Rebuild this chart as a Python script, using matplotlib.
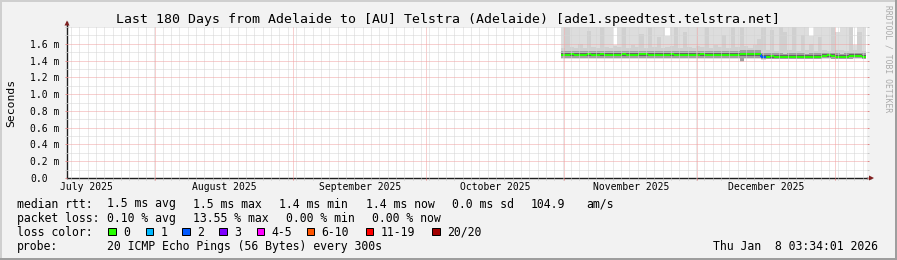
import numpy as np
import pandas as pd
import matplotlib as mpl
mpl.use('Agg')
import matplotlib.pyplot as plt
import matplotlib.dates as mdates
from matplotlib.patches import Rectangle, Polygon
from matplotlib.ticker import FixedLocator

W, H = 897, 260
MONO = 'DejaVu Sans Mono'

title = 'Last 180 Days from Adelaide to [AU] Telstra (Adelaide) [ade1.speedtest.telstra.net]'
t_start = pd.Timestamp('2025-07-12 03:34:01')
t_end = pd.Timestamp('2026-01-08 03:34:01')
data_start = pd.Timestamp('2025-10-31 06:00')
data_end = pd.Timestamp('2026-01-07 22:00')

# smokeping buckets (ms), one per ~day from 2025-10-31 to 2026-01-07
median = [1.472, 1.471, 1.473, 1.472, 1.470, 1.472, 1.473, 1.471, 1.472, 1.474,
          1.472, 1.471, 1.470, 1.472, 1.473, 1.472, 1.471, 1.472, 1.474, 1.473,
          1.472, 1.471, 1.472, 1.470, 1.471, 1.473, 1.472, 1.471, 1.470, 1.472,
          1.471, 1.472, 1.473, 1.471, 1.470, 1.472, 1.471, 1.470, 1.472, 1.470,
          1.472, 1.476, 1.478, 1.477, 1.478, 1.476, 1.438, 1.446, 1.452, 1.446,
          1.445, 1.446, 1.447, 1.446, 1.445, 1.447, 1.446, 1.448, 1.446, 1.447,
          1.458, 1.462, 1.457, 1.447, 1.446, 1.447, 1.456, 1.460, 1.458, 1.447]
loss = [0, 0, 0, 0, 0, 0, 0, 0, 0, 0,
        0, 0, 0, 0, 0, 0, 0, 0, 0, 0,
        0, 0, 0, 0, 0, 0, 0, 0, 0, 0,
        0, 0, 0, 0, 0, 0, 0, 0, 0, 0,
        0, 0, 0, 0, 0, 0, 2, 0, 0, 0,
        0, 0, 0, 0, 0, 0, 0, 0, 0, 0,
        0, 0, 0, 0, 0, 0, 0, 0, 0, 0]
ping_max = [2.6, 2.6, 2.6, 2.6, 2.6, 2.6, 2.6, 2.6, 2.6, 2.6,
            2.6, 2.6, 1.59, 2.6, 2.6, 2.6, 2.6, 2.6, 2.6, 2.6,
            2.6, 2.6, 2.6, 2.6, 1.69, 2.6, 2.6, 2.6, 2.6, 2.6,
            2.6, 2.6, 2.6, 2.6, 2.6, 2.6, 2.6, 2.6, 2.6, 2.6,
            2.6, 2.6, 2.6, 2.6, 2.6, 2.6, 2.6, 2.6, 2.6, 2.6,
            2.6, 2.6, 2.6, 2.6, 2.6, 2.6, 2.6, 1.69, 2.6, 2.6,
            2.6, 2.6, 2.6, 1.74, 2.6, 2.6, 2.6, 1.59, 2.6, 2.6]
ping_up = [1.55, 1.80, 1.56, 1.55, 1.60, 1.55, 1.75, 1.56, 1.55, 1.80,
           1.56, 1.55, 1.57, 1.56, 1.80, 1.55, 1.58, 1.56, 1.72, 1.55,
           1.80, 1.56, 1.68, 1.55, 1.56, 1.57, 1.80, 1.55, 1.74, 1.56,
           1.55, 1.57, 1.56, 1.80, 1.55, 1.58, 1.56, 1.70, 1.55, 1.80,
           1.56, 1.80, 1.57, 1.55, 1.58, 1.66, 1.80, 1.52, 1.76, 1.51,
           1.80, 1.74, 1.52, 1.80, 1.51, 1.70, 1.52, 1.60, 1.51, 1.68,
           1.52, 1.51, 1.80, 1.52, 1.53, 1.51, 1.80, 1.52, 1.74, 1.51]
mid_hi = [1.515, 1.516, 1.515, 1.514, 1.515, 1.516, 1.515, 1.515, 1.514, 1.516,
          1.515, 1.515, 1.514, 1.515, 1.516, 1.515, 1.514, 1.515, 1.516, 1.515,
          1.515, 1.514, 1.515, 1.516, 1.515, 1.515, 1.514, 1.515, 1.516, 1.515,
          1.515, 1.514, 1.515, 1.516, 1.515, 1.515, 1.514, 1.515, 1.516, 1.515,
          1.515, 1.520, 1.521, 1.520, 1.521, 1.520, 1.485, 1.486, 1.488, 1.485,
          1.485, 1.484, 1.485, 1.486, 1.485, 1.485, 1.484, 1.486, 1.485, 1.485,
          1.490, 1.492, 1.489, 1.485, 1.484, 1.485, 1.489, 1.491, 1.489, 1.485]
core_hi = [1.495, 1.494, 1.495, 1.496, 1.495, 1.494, 1.495, 1.495, 1.496, 1.495,
           1.494, 1.495, 1.495, 1.496, 1.495, 1.494, 1.495, 1.495, 1.496, 1.495,
           1.494, 1.495, 1.495, 1.496, 1.495, 1.494, 1.495, 1.495, 1.496, 1.495,
           1.494, 1.495, 1.495, 1.496, 1.495, 1.494, 1.495, 1.495, 1.496, 1.495,
           1.494, 1.500, 1.501, 1.500, 1.501, 1.500, 1.462, 1.468, 1.472, 1.466,
           1.465, 1.466, 1.467, 1.466, 1.465, 1.467, 1.466, 1.468, 1.466, 1.467,
           1.476, 1.479, 1.475, 1.467, 1.466, 1.467, 1.475, 1.478, 1.476, 1.467]
core_lo = [1.452, 1.451, 1.452, 1.453, 1.452, 1.451, 1.452, 1.452, 1.453, 1.452,
           1.451, 1.452, 1.452, 1.453, 1.452, 1.451, 1.452, 1.452, 1.453, 1.452,
           1.451, 1.452, 1.452, 1.453, 1.452, 1.451, 1.452, 1.452, 1.453, 1.452,
           1.451, 1.452, 1.452, 1.453, 1.452, 1.451, 1.452, 1.452, 1.453, 1.452,
           1.451, 1.455, 1.456, 1.455, 1.456, 1.455, 1.425, 1.432, 1.436, 1.432,
           1.432, 1.433, 1.432, 1.432, 1.431, 1.432, 1.433, 1.432, 1.432, 1.433,
           1.440, 1.443, 1.439, 1.432, 1.432, 1.433, 1.439, 1.442, 1.440, 1.432]
mid_lo = [1.428, 1.427, 1.428, 1.429, 1.428, 1.427, 1.428, 1.428, 1.429, 1.428,
          1.427, 1.428, 1.428, 1.429, 1.428, 1.427, 1.428, 1.428, 1.429, 1.428,
          1.427, 1.428, 1.428, 1.429, 1.428, 1.427, 1.428, 1.428, 1.429, 1.428,
          1.427, 1.428, 1.428, 1.429, 1.428, 1.427, 1.428, 1.428, 1.429, 1.428,
          1.427, 1.400, 1.430, 1.431, 1.430, 1.430, 1.418, 1.422, 1.424, 1.422,
          1.422, 1.423, 1.422, 1.422, 1.421, 1.422, 1.423, 1.422, 1.422, 1.423,
          1.425, 1.427, 1.424, 1.422, 1.422, 1.423, 1.424, 1.426, 1.425, 1.422]
ping_min = [1.418, 1.417, 1.418, 1.419, 1.418, 1.417, 1.418, 1.418, 1.419, 1.418,
            1.417, 1.418, 1.418, 1.419, 1.418, 1.417, 1.418, 1.418, 1.419, 1.418,
            1.417, 1.418, 1.418, 1.419, 1.418, 1.417, 1.418, 1.418, 1.419, 1.418,
            1.417, 1.418, 1.418, 1.419, 1.418, 1.417, 1.418, 1.418, 1.419, 1.418,
            1.417, 1.385, 1.419, 1.420, 1.419, 1.418, 1.408, 1.414, 1.415, 1.414,
            1.414, 1.415, 1.414, 1.414, 1.413, 1.414, 1.415, 1.414, 1.414, 1.415,
            1.416, 1.417, 1.415, 1.414, 1.414, 1.415, 1.416, 1.417, 1.416, 1.414]

month_starts = ['2025-08-01', '2025-09-01', '2025-10-01', '2025-11-01', '2025-12-01', '2026-01-01']
month_labels = ['July 2025', 'August 2025', 'September 2025', 'October 2025',
                'November 2025', 'December 2025']
month_mids = ['2025-07-16 12:00', '2025-08-16 12:00', '2025-09-16 00:00',
              '2025-10-16 12:00', '2025-11-16 00:00', '2025-12-16 12:00']
y_major = [0.0, 0.2, 0.4, 0.6, 0.8, 1.0, 1.2, 1.4, 1.6]
y_major_labels = ['0.0', '0.2 m', '0.4 m', '0.6 m', '0.8 m', '1.0 m', '1.2 m', '1.4 m', '1.6 m']
y_minor = [0.1, 0.3, 0.5, 0.7, 0.9, 1.1, 1.3, 1.5, 1.7, 1.8]

loss_labels = ['0', '1', '2', '3', '4-5', '6-10', '11-19', '20/20']
loss_colors = ['#26ff00', '#00b8ff', '#0059ff', '#7e00ff', '#ff00ff', '#ff5500', '#ff0000', '#a10000']
loss_edges = [0, 1, 2, 3, 5, 10, 19, 20]

stats_rtt = ['median rtt:', '1.5 ms avg', '1.5 ms max', '1.4 ms min', '1.4 ms now',
             '0.0 ms sd', '104.9', 'am/s']
stats_loss = ['packet loss:', '0.10 % avg', '13.55 % max', '0.00 % min', '0.00 % now']
probe_text = '20 ICMP Echo Pings (56 Bytes) every 300s'
stamp = 'Thu Jan  8 03:34:01 2026'

# ---------------------------------------------------------------- figure
fig = plt.figure(figsize=(W / 100, H / 100), dpi=100, facecolor='#f2f2f2')
ax = fig.add_axes([67 / W, 82 / H, 800 / W, 151 / H], facecolor='white')

edges = mdates.date2num(pd.date_range(data_start, data_end, periods=len(median) + 1))

# smoke, outer to inner
ax.stairs(ping_max, edges, baseline=ping_min, fill=True, color='#dddddd', lw=0)
ax.stairs(ping_up, edges, baseline=mid_lo, fill=True, color='#d0d0d0', lw=0)
ax.stairs(mid_hi, edges, baseline=mid_lo, fill=True, color='#a0a0a0', lw=0)
ax.stairs(core_hi, edges, baseline=core_lo, fill=True, color='#656565', lw=0)

# median coloured by loss
med = np.array(median)
cols = [loss_colors[np.searchsorted(loss_edges, l)] for l in loss]
ax.vlines(edges[1:-1], med[:-1], med[1:], colors=cols[1:], lw=1.3)
ax.hlines(med, edges[:-1], edges[1:], colors=cols, lw=1.4)

ax.xaxis_date()
ax.set_xlim(mdates.date2num(t_start), mdates.date2num(t_end))
ax.set_ylim(0, 1.8)

# grid
ax.xaxis.set_major_locator(FixedLocator(mdates.date2num(pd.to_datetime(month_starts))))
ax.xaxis.set_minor_locator(FixedLocator(mdates.date2num(
    pd.date_range('2025-07-13 01:20', '2026-01-08', freq='45h'))))
ax.set_yticks(y_major)
ax.set_yticklabels(y_major_labels)
ax.yaxis.set_minor_locator(FixedLocator(y_minor))
ax.set_axisbelow(False)
ax.grid(which='minor', color='#d4d4d4', ls=(0, (1, 1)), lw=0.72)
ax.grid(which='major', color='#f0a0a0', ls=(0, (1, 1)), lw=0.72)
ax.tick_params(axis='both', which='minor', direction='out', length=1.6, width=0.72, color='#c8c8c8')
ax.tick_params(axis='both', which='major', direction='out', length=1.6, width=0.72, color='#e08a8a')
ax.tick_params(axis='y', which='both', left=True, right=True)
ax.tick_params(axis='x', which='both', labelbottom=False)
ax.tick_params(axis='y', which='major', labelsize=7, pad=24.7)
for lab in ax.get_yticklabels():
    lab.set_fontfamily(MONO)
    lab.set_horizontalalignment('left')

for s in ['top', 'right']:
    ax.spines[s].set_visible(False)
for s in ['left', 'bottom']:
    ax.spines[s].set_color('#1f1f1f')
    ax.spines[s].set_linewidth(1.0)
ax.plot([0, 0], [1, 1.03], transform=ax.transAxes, clip_on=False, color='#1f1f1f', lw=1.0)
ax.plot([1, 1.005], [0, 0], transform=ax.transAxes, clip_on=False, color='#1f1f1f', lw=1.0)

for d, lab in zip(month_mids, month_labels):
    ax.text(mdates.date2num(pd.Timestamp(d)), -0.062, lab, transform=ax.get_xaxis_transform(),
            ha='center', va='center', fontsize=7, family=MONO)

# ---------------------------------------------------------------- overlay in pixels
ov = fig.add_axes([0, 0, 1, 1], zorder=5)
ov.set_xlim(0, W)
ov.set_ylim(H, 0)
ov.axis('off')
ov.patch.set_alpha(0)

# 3d frame
ov.add_patch(Rectangle((0, 0), W, 2, color='#cfcfcf', lw=0))
ov.add_patch(Rectangle((0, 0), 2, H, color='#cfcfcf', lw=0))
ov.add_patch(Rectangle((0, H - 2), W, 2, color='#9e9e9e', lw=0))
ov.add_patch(Rectangle((W - 2, 0), 2, H, color='#9e9e9e', lw=0))

# arrows
ov.add_patch(Polygon([(64.5, 25.5), (69.5, 25.5), (67, 20.5)], closed=True, color='#801f1f', lw=0))
ov.add_patch(Polygon([(869, 175.5), (869, 180.5), (874, 178)], closed=True, color='#801f1f', lw=0))

ov.text(448, 19, title, ha='center', va='center', fontsize=9.5, family=MONO)
ov.text(11, 103, 'Seconds', rotation=90, ha='center', va='center', fontsize=8.2, family=MONO)
ov.text(888, 5, 'RRDTOOL / TOBI OETIKER', rotation=270, ha='center', va='top',
        fontsize=5.8, family=MONO, color='#aaaaaa')

fs = 8.3
rtt_x = [16.7, 107.3, 193.3, 279.3, 365.7, 451.7, 531, 586.7]
for x, s in zip(rtt_x, stats_rtt):
    ov.text(x, 204, s, ha='left', va='center', fontsize=fs, family=MONO)
loss_x = [16.7, 107.3, 193.3, 286, 372.3]
for x, s in zip(loss_x, stats_loss):
    ov.text(x, 218.3, s, ha='left', va='center', fontsize=fs, family=MONO)

ov.text(16.7, 232, 'loss color:', ha='left', va='center', fontsize=fs, family=MONO)
box_x = [108.3, 145.7, 182.3, 219.3, 256.7, 306.7, 365.7, 432.3]
for x, lab, c in zip(box_x, loss_labels, loss_colors):
    ov.add_patch(Rectangle((x, 227.8), 7.5, 7.5, facecolor=c, edgecolor='black', lw=0.72))
    ov.text(x + 15, 232, lab, ha='left', va='center', fontsize=fs, family=MONO)

ov.text(16.7, 246.7, 'probe:', ha='left', va='center', fontsize=fs, family=MONO)
ov.text(107.3, 246.7, probe_text, ha='left', va='center', fontsize=fs, family=MONO)
ov.text(713.3, 246.7, stamp, ha='left', va='center', fontsize=fs, family=MONO)

fig.savefig('out.png', dpi=100, facecolor=fig.get_facecolor())
